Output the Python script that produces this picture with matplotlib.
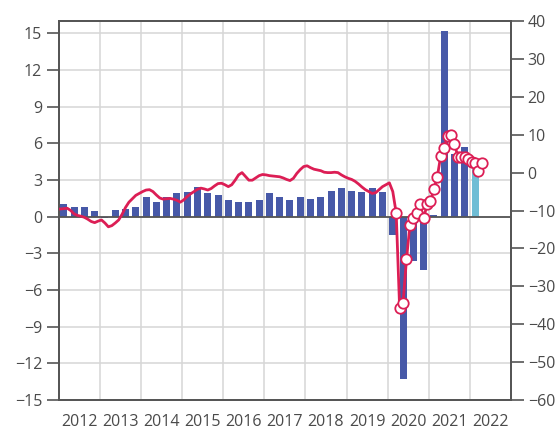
import matplotlib
matplotlib.use('Agg')
import matplotlib.pyplot as plt
import numpy as np

plt.rcParams['font.family'] = ['Open Sans', 'DejaVu Sans']

# ── DATA ─────────────────────────────────────────────────────
# quarterly bars, 2012Q1 .. 2022Q1 (left axis)
bar_vals = [1.0, 0.76, 0.76, 0.44,
            -0.1, 0.52, 0.6, 0.76,
            1.58, 1.17, 1.58, 1.9,
            2.0, 2.4, 1.9, 1.74,
            1.34, 1.17, 1.17, 1.34,
            1.9, 1.58, 1.34, 1.58,
            1.42, 1.58, 2.07, 2.32,
            2.07, 2.0, 2.32, 2.0,
            -1.5, -13.25, -3.6, -4.4,
            0.1, 15.15, 5.1, 5.67,
            3.9]
bar_is_estimate = [False] * 40 + [True]

# monthly line, Jan 2012 .. Apr 2022 (right axis)
line_vals = [-9.6, -9.5, -9.4, -10.0, -10.9, -11.3, -11.5, -11.8, -12.3, -12.9, -13.2, -12.8,
             -12.5, -13.3, -14.3, -14.0, -13.3, -12.5, -11.0, -9.2, -7.8, -6.9, -6.0, -5.5,
             -5.0, -4.6, -4.5, -5.0, -5.9, -6.7, -7.0, -6.9, -6.8, -7.0, -7.3, -7.8,
             -7.2, -6.3, -5.6, -5.0, -4.4, -4.1, -4.3, -4.6, -4.2, -3.5, -2.9, -2.8,
             -3.2, -3.7, -3.2, -2.0, -0.6, 0.0, -1.0, -2.0, -2.0, -1.4, -0.8, -0.5,
             -0.6, -0.8, -0.9, -1.0, -1.1, -1.4, -1.8, -2.1, -1.5, -0.2, 0.8, 1.6,
             1.8, 1.3, 0.9, 0.7, 0.5, 0.1, 0.0, 0.0, 0.1, 0.0, -0.6, -1.1,
             -1.5, -1.8, -2.3, -3.0, -3.8, -4.5, -5.0, -5.5, -5.3, -4.5, -3.7, -3.2,
             -2.7, -5.0, -10.7, -35.8, -34.3, -22.9, -13.8, -12.1, -10.6, -8.4, -12.1, -8.4,
             -7.5, -4.4, -1.1, 4.5, 6.6, 9.7, 10.0, 7.6, 4.2, 4.2, 4.2, 3.6,
             2.9, 2.5, 0.5, 2.5]
marker_start = 98   # markers from Mar 2020

years = list(range(2012, 2023))
left_ticks = [-15, -12, -9, -6, -3, 0, 3, 6, 9, 12, 15]
right_ticks = [-60, -50, -40, -30, -20, -10, 0, 10, 20, 30, 40]

# ── STYLE ────────────────────────────────────────────────────
BAR_C   = '#4759A8'
EST_C   = '#6FBDD5'
LINE_C  = '#DC1E55'
GRID_C  = '#D6D6D6'
AX_C    = '#555555'
TXT_C   = '#4A4A4A'
FS      = 11.5

# ── PLOT ─────────────────────────────────────────────────────
fig = plt.figure(figsize=(5.6, 4.29), dpi=100)
ax1 = fig.add_axes([0.1048, 0.0676, 0.8077, 0.8834])

xq = 2012 + (np.arange(len(bar_vals)) + 0.5) / 4
colors = [EST_C if e else BAR_C for e in bar_is_estimate]
ax1.bar(xq, bar_vals, width=0.17, color=colors, zorder=3)

ax1.axhline(0, color=AX_C, lw=1.3, zorder=4)
ax1.set_xlim(2012, 2023)
ax1.set_ylim(-15, 16)
ax1.set_yticks(left_ticks)
ax1.set_xticks(years[1:], minor=False)
ax1.set_xticklabels([])
ax1.set_xticks(np.array(years) + 0.5, minor=True)
ax1.set_xticklabels([str(y) for y in years], minor=True)
ax1.tick_params(axis='x', which='both', length=0, pad=10, labelsize=FS, labelcolor=TXT_C)
ax1.tick_params(axis='y', length=9, width=1.2, color=AX_C, labelsize=FS, labelcolor=TXT_C, pad=3)
ax1.grid(True, which='major', color=GRID_C, lw=1.1, zorder=0)
ax1.set_axisbelow(True)
for s in ax1.spines.values():
    s.set_color(AX_C)
    s.set_linewidth(1.3)

# secondary axis — monthly line
ax2 = ax1.twinx()
xm = 2012 + (np.arange(len(line_vals)) + 0.5) / 12
ax2.plot(xm, line_vals, color=LINE_C, lw=2.0, zorder=5,
         marker='o', markersize=7.5, markerfacecolor='white',
         markeredgecolor=LINE_C, markeredgewidth=1.3,
         markevery=list(range(marker_start, len(line_vals))))
ax2.set_ylim(-60, 40)
ax2.set_yticks(right_ticks)
ax2.tick_params(axis='y', length=9, width=1.2, color=AX_C, labelsize=FS, labelcolor=TXT_C, pad=3)
for s in ax2.spines.values():
    s.set_color(AX_C)
    s.set_linewidth(1.3)

fig.savefig('out.png', dpi=100)
plt.close()
